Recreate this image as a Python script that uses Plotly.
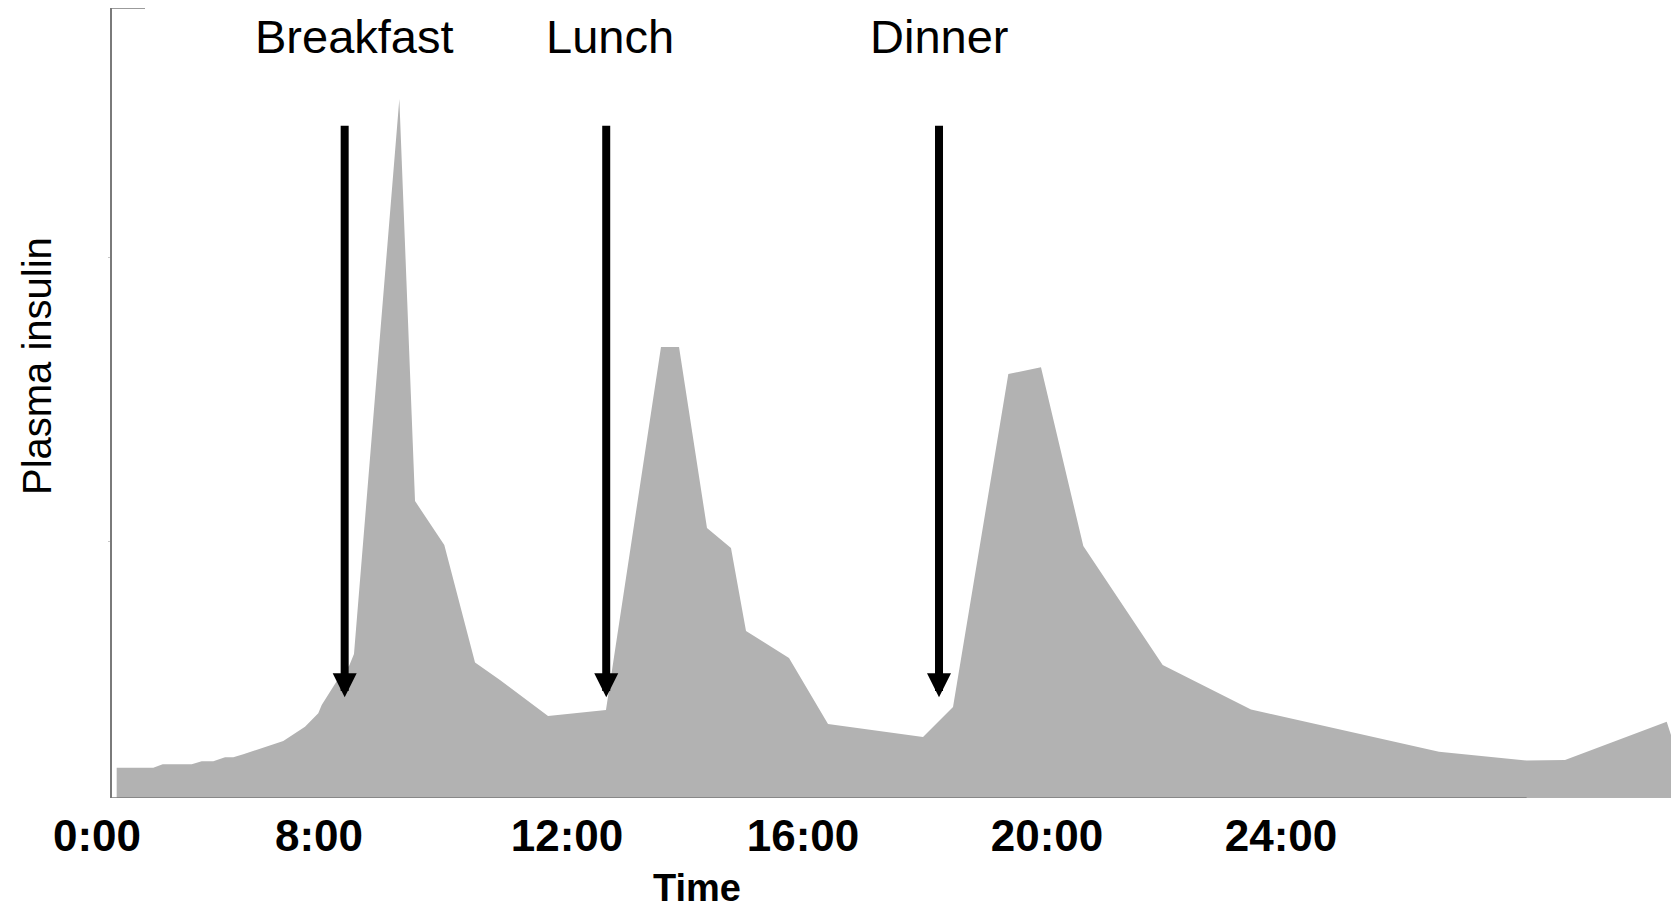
import plotly.graph_objects as go

# ---- data ----
TIME_H = [4.635, 5.244, 5.400, 5.883, 6.049, 6.242, 6.437, 6.575, 6.741, 7.406,
          7.767, 7.988, 8.045, 8.349, 8.504, 8.582, 9.336, 9.597, 10.084, 10.595,
          11.010, 11.809, 12.773, 13.688, 13.988, 14.453, 14.852, 15.102, 15.817, 16.466,
          18.046, 18.545, 19.465, 20.008, 20.712, 22.032, 23.501, 26.628, 28.085, 28.724,
          30.415, 30.62]
INSULIN = [3.84, 3.84, 4.27, 4.27, 4.65, 4.65, 5.15, 5.15, 5.53, 7.22,
           9.03, 10.72, 11.77, 15.44, 16.77, 18.23, 88.48, 37.59, 32.03, 17.15,
           14.94, 10.38, 11.14, 57.09, 57.09, 34.18, 31.65, 21.14, 17.72, 9.37,
           7.72, 11.52, 53.67, 54.52, 31.90, 16.84, 11.20, 5.86, 4.75, 4.81,
           9.66, 4.81]

TICK_POS = [4.308, 8.0, 12.125, 16.05, 20.108, 24.0]
TICK_LABELS = ["0:00", "8:00", "12:00", "16:00", "20:00", "24:00"]

MEALS = ["Breakfast", "Lunch", "Dinner"]
MEAL_TIMES = [8.427, 12.777, 18.312]
MEAL_LABEL_POS = [8.59, 12.84, 18.31]
ARROW_TIP = 12.75

Y_TICKS = [32.53, 68.48]
X_RANGE = [3.6923, 30.6195]
Y_RANGE = [0, 100]
X_AXIS_START = 4.5405
X_AXIS_END = 28.085

AXIS_COLOR = "#7a7a7a"
FILL_COLOR = "#b2b2b2"

fig = go.Figure()
fig.add_trace(go.Scatter(
    x=TIME_H, y=INSULIN, mode="lines", fill="tozeroy",
    fillcolor=FILL_COLOR, line=dict(width=0, color=FILL_COLOR),
    hoverinfo="skip", showlegend=False,
))

annotations = []
for name, t_arrow, t_label in zip(MEALS, MEAL_TIMES, MEAL_LABEL_POS):
    annotations.append(dict(
        x=t_arrow, y=ARROW_TIP, xref="x", yref="y",
        text="", showarrow=True, ax=0, ay=-573,
        arrowhead=2, arrowwidth=8, arrowsize=0.6, arrowcolor="black",
        standoff=0, font=dict(size=2),
    ))
    annotations.append(dict(
        x=t_label, y=0.9639, xref="x", yref="paper",
        text=name, showarrow=False, xanchor="center", yanchor="middle",
        font=dict(family="Liberation Sans, Arial, sans-serif", size=47, color="black"),
    ))

annotations.append(dict(
    x=-0.0145, y=0.5462, xref="paper", yref="paper",
    text="Plasma insulin", textangle=-90, showarrow=False,
    xanchor="center", yanchor="middle",
    font=dict(family="Liberation Sans, Arial, sans-serif", size=40, color="black"),
))
annotations.append(dict(
    x=0.3935, y=-0.1145, xref="paper", yref="paper",
    text="<b>Time</b>", showarrow=False, xanchor="center", yanchor="middle",
    font=dict(family="Liberation Sans, Arial, sans-serif", size=38, color="black"),
))

shapes = [
    dict(type="line", xref="x", yref="y", x0=X_AXIS_START, x1=X_AXIS_END, y0=0, y1=0,
         line=dict(color=AXIS_COLOR, width=1.5)),
    dict(type="line", xref="paper", yref="y", x0=0.0315, x1=0.0525, y0=Y_RANGE[1], y1=Y_RANGE[1],
         line=dict(color=AXIS_COLOR, width=1.5)),
]

# page body has an 8px margin, so the figure is sized to fit the 1679x912 window
fig.update_layout(
    width=1671, height=904,
    margin=dict(l=52, r=0, t=0, b=114, pad=0),
    paper_bgcolor="white", plot_bgcolor="white",
    showlegend=False,
    annotations=annotations,
    shapes=shapes,
    xaxis=dict(
        range=X_RANGE, showgrid=False, zeroline=False, showline=False,
        tickmode="array", tickvals=TICK_POS, ticktext=TICK_LABELS, ticks="",
        tickfont=dict(family="Liberation Sans, Arial, sans-serif", size=44,
                      color="black", weight="bold"),
        ticklabelstandoff=8,
    ),
    yaxis=dict(
        range=Y_RANGE, anchor="free", position=0.0315,
        showgrid=False, zeroline=False, showline=True,
        linecolor=AXIS_COLOR, linewidth=1.5,
        tickmode="array", tickvals=Y_TICKS, ticks="outside", ticklen=2,
        tickcolor="#c8c8c8", showticklabels=False,
    ),
)

fig.write_html("out.html")
